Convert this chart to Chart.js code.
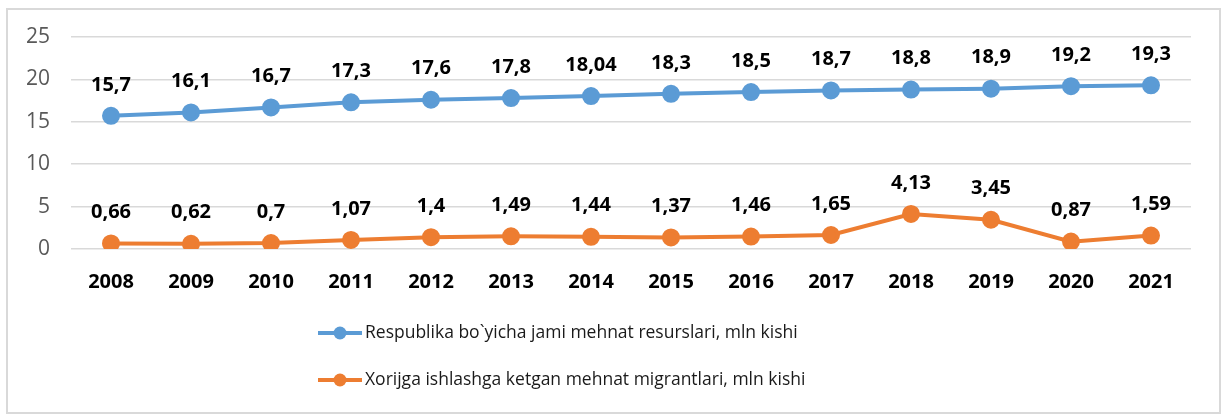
<!DOCTYPE html>
<html>
<head>
<meta charset="utf-8">
<script src="https://cdn.jsdelivr.net/npm/chart.js@4"></script>
<style>
  body { margin: 0; background: #fff; }
  #box { position: absolute; left: 6px; top: 8px; border: 2px solid #d9d9d9; background: #fff; }
  canvas { display: block; }
</style>
</head>
<body>
<div id="box"><canvas id="chart" width="1211" height="402"></canvas></div>
<script>
var years = ['2008', '2009', '2010', '2011', '2012', '2013', '2014', '2015', '2016', '2017', '2018', '2019', '2020', '2021'];
var resources = [15.7, 16.1, 16.7, 17.3, 17.6, 17.8, 18.04, 18.3, 18.5, 18.7, 18.8, 18.9, 19.2, 19.3];
var migrants = [0.66, 0.62, 0.7, 1.07, 1.4, 1.49, 1.44, 1.37, 1.46, 1.65, 4.13, 3.45, 0.87, 1.59];
var seriesNames = [
    'Respublika bo`yicha jami mehnat resurslari, mln kishi',
    'Xorijga ishlashga ketgan mehnat migrantlari, mln kishi'
];

var FONT = "'Open Sans', 'Liberation Sans', sans-serif";

// value labels above each point, comma as decimal separator
const valueLabels = {
    id: 'valueLabels',
    afterDatasetsDraw(chart) {
        const ctx = chart.ctx;
        ctx.save();
        ctx.font = 'bold 20px ' + FONT;
        ctx.fillStyle = '#000';
        ctx.textAlign = 'center';
        ctx.textBaseline = 'middle';
        chart.data.datasets.forEach((ds, i) => {
            chart.getDatasetMeta(i).data.forEach((pt, j) => {
                ctx.fillText(String(ds.data[j]).replace('.', ','), pt.x, pt.y - 31);
            });
        });
        ctx.restore();
    }
};

// stacked legend under the axis
const stackedLegend = {
    id: 'stackedLegend',
    afterDraw(chart) {
        const ctx = chart.ctx;
        const rows = [323, 370];
        ctx.save();
        chart.data.datasets.forEach((ds, i) => {
            const y = rows[i];
            ctx.strokeStyle = ds.borderColor;
            ctx.lineWidth = 4;
            ctx.beginPath();
            ctx.moveTo(310, y);
            ctx.lineTo(354, y);
            ctx.stroke();
            ctx.fillStyle = ds.borderColor;
            ctx.beginPath();
            ctx.arc(332, y, 6.5, 0, Math.PI * 2);
            ctx.fill();
            ctx.fillStyle = '#1a1a1a';
            ctx.font = '17.5px ' + FONT;
            ctx.textAlign = 'left';
            ctx.textBaseline = 'middle';
            ctx.fillText(ds.label, 357, y);
        });
        ctx.restore();
    }
};

const ctx = document.getElementById('chart').getContext('2d');
var chart = new Chart(ctx, {
    type: 'line',
    data: {
        labels: years,
        datasets: [{
            label: seriesNames[0],
            data: resources,
            borderColor: '#5B9BD5',
            backgroundColor: '#5B9BD5',
            borderWidth: 4,
            pointRadius: 7,
            pointHoverRadius: 7
        }, {
            label: seriesNames[1],
            data: migrants,
            borderColor: '#ED7D31',
            backgroundColor: '#ED7D31',
            borderWidth: 4,
            pointRadius: 7,
            pointHoverRadius: 7
        }]
    },
    options: {
        responsive: false,
        animation: false,
        layout: { padding: { top: 27, right: 28, bottom: 118, left: 0 } },
        plugins: {
            legend: { display: false },
            tooltip: { enabled: false }
        },
        scales: {
            x: {
                offset: true,
                grid: { display: false, drawTicks: false },
                border: { display: false },
                ticks: { color: '#000', padding: 21, font: { family: FONT, size: 20, weight: 'bold' } },
                afterFit: s => { s.height = 45; s.paddingLeft = 0; s.paddingRight = 0; }
            },
            y: {
                min: 0,
                max: 25,
                ticks: { stepSize: 5, color: '#595959', padding: 21, font: { family: FONT, size: 21 } },
                grid: { color: '#d9d9d9', lineWidth: 1.5, drawTicks: false },
                border: { display: false },
                afterFit: s => { s.width = 63; s.paddingTop = 0; s.paddingBottom = 0; }
            }
        }
    },
    plugins: [valueLabels, stackedLegend]
});
</script>
</body>
</html>
